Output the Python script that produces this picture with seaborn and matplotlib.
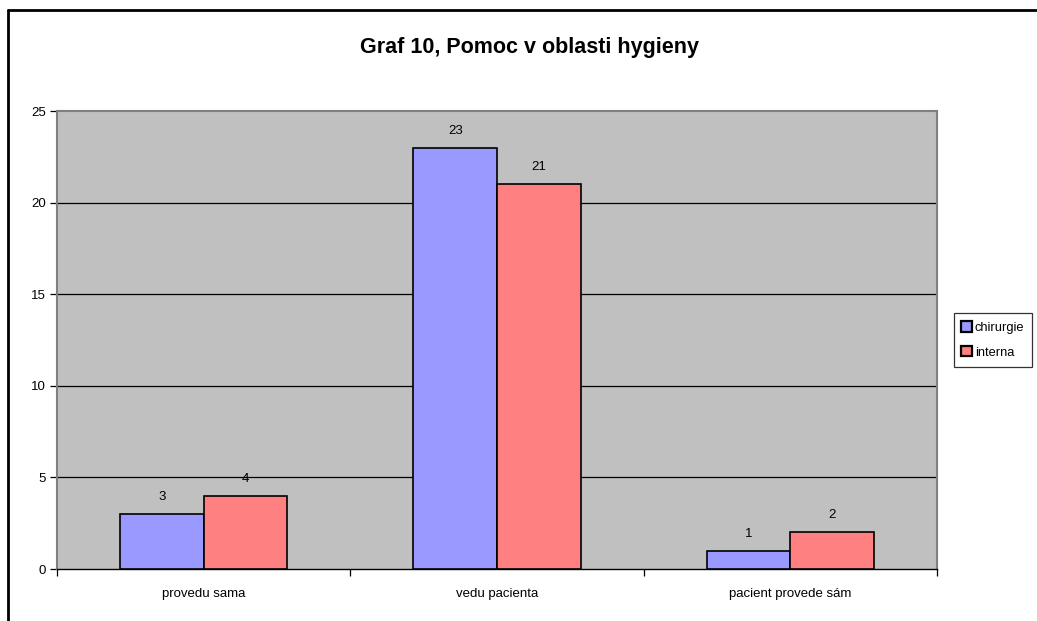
import matplotlib
matplotlib.use("Agg")
import matplotlib.pyplot as plt
from matplotlib.lines import Line2D
import seaborn as sns
import pandas as pd

categories = ["provedu sama", "vedu pacienta", "pacient provede sám"]
series_names = ["chirurgie", "interna"]
chirurgie = [3, 23, 1]
interna = [4, 21, 2]
yticks = [0, 5, 10, 15, 20, 25]
title = "Graf 10, Pomoc v oblasti hygieny"

df = pd.DataFrame({
    "kategorie": categories * 2,
    "serie": [series_names[0]] * 3 + [series_names[1]] * 3,
    "hodnota": chirurgie + interna,
})

sns.set_theme(style="white")
plt.rcParams["font.family"] = ["Liberation Sans", "DejaVu Sans"]
plt.rcParams["text.color"] = "black"
plt.rcParams["xtick.color"] = "black"
plt.rcParams["ytick.color"] = "black"
plt.rcParams["axes.labelcolor"] = "black"

fig = plt.figure(figsize=(10.37, 6.21), dpi=100)
ax = fig.add_axes([57/1037, 1 - 569/621, (937-57)/1037, (569-111)/621])
ax.set_facecolor("#C0C0C0")

sns.barplot(data=df, x="kategorie", y="hodnota", hue="serie", order=categories,
            hue_order=series_names, palette=["#9999FF", "#FF8080"],
            width=0.57, edgecolor="black", linewidth=1.2, ax=ax, saturation=1,
            zorder=3)

for c in ax.containers:
    ax.bar_label(c, padding=8, fontsize=9.5, color="black")

ax.set_ylim(0, 25)
ax.set_xlim(-0.5, 2.5)
ax.set_yticks(yticks)
ax.set_yticklabels([str(t) for t in yticks], fontsize=9.5)
for y in yticks[1:-1]:
    ax.axhline(y, color="black", linewidth=0.9, zorder=1)
ax.tick_params(axis="y", direction="out", length=5, width=0.9, color="black", left=True, pad=3, labelcolor="black")
ax.tick_params(axis="x", which="major", length=0, labelsize=9.5, pad=14, labelcolor="black")
ax.set_xticks([-0.5, 0.5, 1.5, 2.5], minor=True)
ax.tick_params(axis="x", which="minor", direction="out", length=5, width=0.9, color="black", bottom=True)
ax.set_xlabel("")
ax.set_ylabel("")

for s in ["left", "right", "top"]:
    ax.spines[s].set_color("#808080")
    ax.spines[s].set_linewidth(1.5)
    ax.spines[s].set_visible(True)
ax.spines["bottom"].set_color("black")
ax.spines["bottom"].set_linewidth(1.0)

leg = ax.legend(loc="center left", bbox_to_anchor=(1.019, 0.5), fontsize=9.3,
                frameon=True, fancybox=False, edgecolor="black", handlelength=0.85,
                handleheight=0.85, handletextpad=0.18, borderpad=0.6, labelspacing=0.95,
                borderaxespad=0, labelcolor="black")
leg.get_frame().set_linewidth(0.9)
for h in leg.legend_handles:
    h.set_edgecolor("black")
    h.set_linewidth(1.6)

fig.text(530/1037, 1 - 47/621, title, ha="center", va="center", fontsize=15.5,
         fontweight="bold", color="black")

fig.add_artist(Line2D([8/1037, 8/1037], [0, 1 - 10/621], transform=fig.transFigure, color="black", linewidth=2))
fig.add_artist(Line2D([8/1037, 1], [1 - 10/621, 1 - 10/621], transform=fig.transFigure, color="black", linewidth=2))

fig.savefig("out.png", dpi=100, facecolor="white")
